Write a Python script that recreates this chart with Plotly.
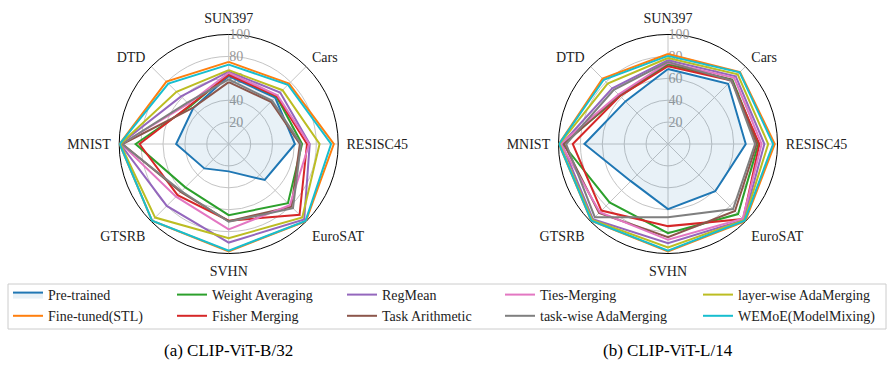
import plotly.graph_objects as go

SERIF = "Liberation Serif"

tasks = ["SUN397", "Cars", "RESISC45", "EuroSAT", "SVHN", "GTSRB", "MNIST", "DTD"]

methods = [
    "Pre-trained", "Fine-tuned(STL)", "Weight Averaging", "Fisher Merging",
    "RegMean", "Task Arithmetic", "Ties-Merging", "task-wise AdaMerging",
    "layer-wise AdaMerging", "WEMoE(ModelMixing)",
]
colors = ["#1f77b4", "#ff7f0e", "#2ca02c", "#d62728", "#9467bd",
          "#8c564b", "#e377c2", "#7f7f7f", "#bcbd22", "#17becf"]

# CLIP-ViT-B/32, one list per method, in task order
b32_pretrained = [62.0, 60.0, 60.5, 46.5, 25.0, 31.5, 48.0, 46.0]
b32_finetuned = [75.0, 78.0, 96.0, 99.7, 98.0, 99.0, 99.7, 80.5]
b32_weight_avg = [64.0, 61.5, 67.0, 76.5, 65.0, 56.0, 85.0, 49.0]
b32_fisher = [63.0, 62.0, 71.5, 91.5, 70.0, 66.0, 81.5, 50.0]
b32_regmean = [66.0, 66.5, 74.0, 97.5, 90.0, 80.0, 99.0, 61.5]
b32_task_arith = [56.5, 54.5, 65.0, 81.0, 70.5, 62.0, 97.0, 46.5]
b32_ties = [65.0, 63.0, 73.5, 79.0, 78.0, 68.0, 98.0, 52.0]
b32_tw_ada = [59.0, 56.0, 66.0, 83.0, 71.0, 61.0, 97.5, 53.5]
b32_lw_ada = [67.5, 69.5, 83.0, 95.0, 86.0, 95.0, 99.0, 67.5]
b32_wemoe = [72.5, 76.5, 93.5, 99.3, 97.5, 99.0, 99.6, 78.0]

# CLIP-ViT-L/14
l14_pretrained = [68.5, 77.7, 71.0, 61.0, 59.5, 48.0, 76.3, 55.0]
l14_finetuned = [82.2, 93.0, 97.5, 99.8, 98.0, 99.2, 99.7, 84.5]
l14_weight_avg = [72.5, 83.0, 82.5, 90.5, 81.5, 75.5, 96.0, 62.0]
l14_fisher = [71.0, 82.0, 83.5, 97.0, 75.0, 86.0, 87.0, 62.0]
l14_regmean = [76.5, 87.5, 88.0, 98.0, 90.5, 97.0, 97.0, 72.0]
l14_task_arith = [74.0, 82.5, 81.0, 86.5, 85.0, 89.0, 95.0, 63.0]
l14_ties = [74.5, 85.5, 85.5, 96.5, 87.5, 88.0, 98.0, 64.0]
l14_tw_ada = [75.0, 82.0, 79.5, 84.0, 67.0, 94.5, 93.0, 70.0]
l14_lw_ada = [78.5, 90.0, 91.5, 98.5, 94.5, 98.0, 99.0, 78.0]
l14_wemoe = [80.5, 92.5, 96.0, 99.0, 97.5, 99.0, 99.5, 83.0]

b32 = [b32_pretrained, b32_finetuned, b32_weight_avg, b32_fisher, b32_regmean,
       b32_task_arith, b32_ties, b32_tw_ada, b32_lw_ada, b32_wemoe]
l14 = [l14_pretrained, l14_finetuned, l14_weight_avg, l14_fisher, l14_regmean,
       l14_task_arith, l14_ties, l14_tw_ada, l14_lw_ada, l14_wemoe]

radial_ticks = [20, 40, 60, 80, 100]
captions = ["(a) CLIP-ViT-B/32", "(b) CLIP-ViT-L/14"]

W, H = 896, 368
R = 109.5
centers = [(228.7, 144), (668, 144)]

# matplotlib-style legend: 5 columns of 2, each column is its own plotly legend
legend_cols_x = [8, 172, 342, 500, 698]
legend_names = ["legend", "legend2", "legend3", "legend4", "legend5"]

fig = go.Figure()
for k, (data, sub) in enumerate([(b32, "polar"), (l14, "polar2")]):
    for i, (name, vals) in enumerate(zip(methods, data)):
        fig.add_trace(go.Scatterpolar(
            r=vals + vals[:1], theta=tasks + tasks[:1],
            mode="lines", name=name,
            line=dict(color=colors[i], width=2),
            fill="toself" if i == 0 else None,
            fillcolor="rgba(31,119,180,0.1)" if i == 0 else None,
            subplot=sub, showlegend=(k == 0), legend=legend_names[i // 2],
            hoverinfo="skip",
        ))


def polar_layout(cx, cy):
    return dict(
        domain=dict(x=[(cx - R) / W, (cx + R) / W],
                    y=[(H - cy - R) / H, (H - cy + R) / H]),
        bgcolor="white",
        angularaxis=dict(
            direction="clockwise", rotation=90,
            tickfont=dict(family=SERIF, size=14, color="#222"),
            showline=True, linecolor="black", linewidth=1,
            gridcolor="#c4c4c4", gridwidth=1,
            ticks="outside", ticklen=5, tickcolor="rgba(0,0,0,0)",
            layer="below traces",
        ),
        radialaxis=dict(
            range=[0, 100], tickvals=radial_ticks, angle=90, tickangle=90,
            showline=False, ticks="", gridcolor="#c4c4c4", gridwidth=1,
            tickfont=dict(family=SERIF, size=14, color="#999999"),
            layer="below traces",
        ),
    )


annotations = []
for (cx, cy), text in zip(centers, captions):
    annotations.append(dict(
        x=cx / W, y=1 - 350 / H, xref="paper", yref="paper",
        xanchor="center", yanchor="middle",
        text=text, showarrow=False,
        font=dict(family=SERIF, size=17, color="black"),
    ))

legends = {}
for lname, lx in zip(legend_names, legend_cols_x):
    legends[lname] = dict(
        orientation="v", x=lx / W, xanchor="left", y=1 - 279 / H, yanchor="top",
        font=dict(family=SERIF, size=14, color="#222"),
        bgcolor="rgba(0,0,0,0)", borderwidth=0, tracegroupgap=0,
    )

fig.update_layout(
    width=W, height=H,
    margin=dict(l=0, r=0, t=0, b=0),
    paper_bgcolor="white",
    polar=polar_layout(*centers[0]),
    polar2=polar_layout(*centers[1]),
    annotations=annotations,
    font=dict(family=SERIF),
    # frame round the five legend columns
    shapes=[dict(
        type="rect", xref="paper", yref="paper", layer="below",
        x0=8 / W, x1=886 / W, y0=1 - 329 / H, y1=1 - 284 / H,
        line=dict(color="#cccccc", width=1), fillcolor="white",
    )],
    **legends,
)

# drop the browser's default 8px body margin so the figure sits at (0, 0)
fig.write_html(
    "out.html",
    config={"displayModeBar": False},
    post_script="document.body.style.margin = '0';",
)
